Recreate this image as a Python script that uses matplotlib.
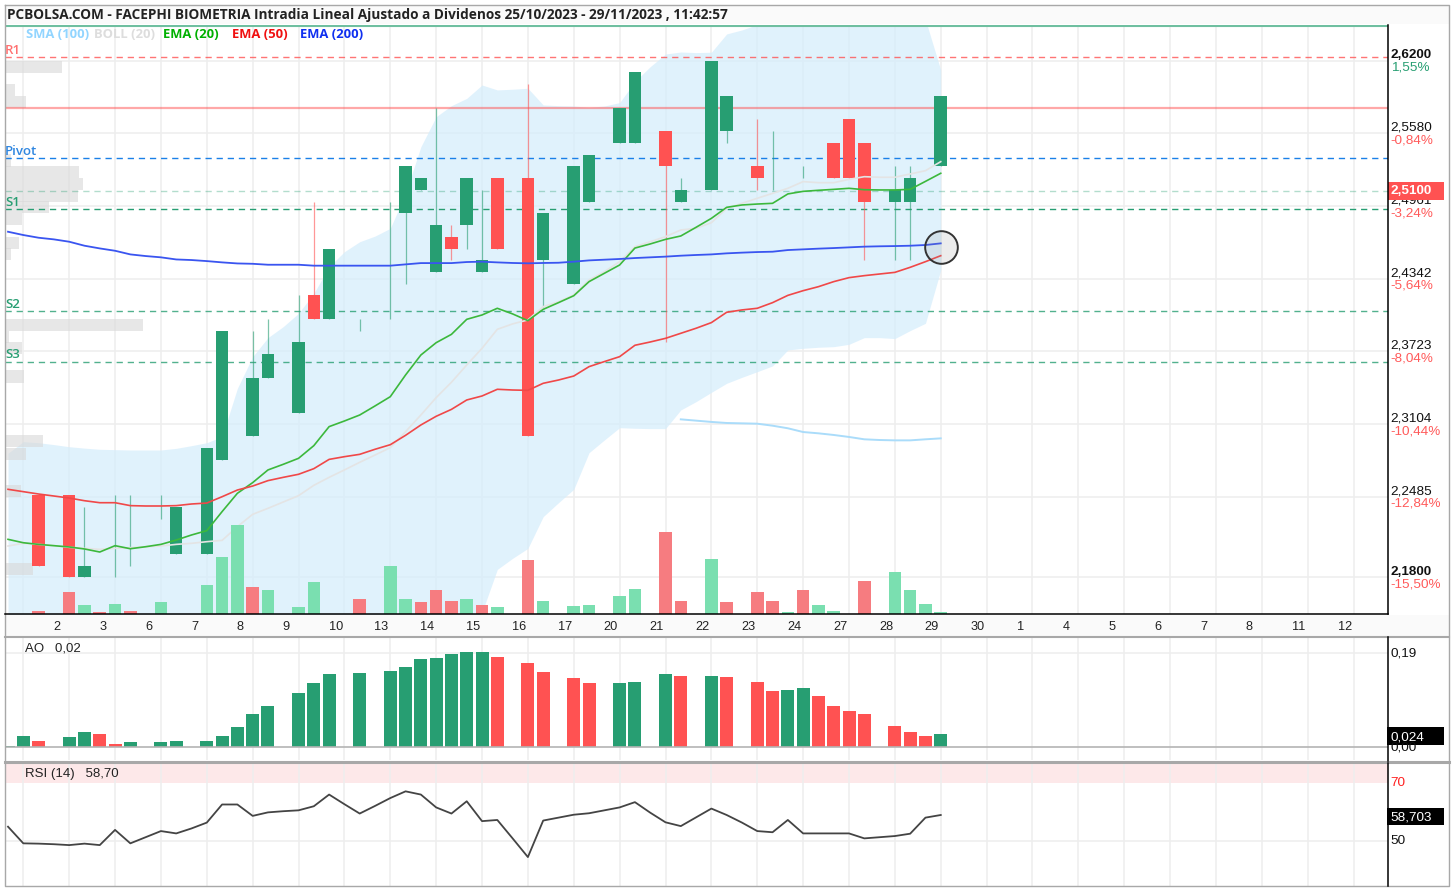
import matplotlib
matplotlib.use('Agg')
import matplotlib.pyplot as plt
import numpy as np

nan = np.nan
W, H = 1454, 891

# candles, bar -1 .. 60 (three bars per day)
bars = np.arange(-1, 61)
opens = [nan, nan, 2.25, nan, 2.25, 2.18, nan, 2.25, 2.25, nan, 2.25, 2.20, nan, 2.20, 2.28, nan,
         2.30, 2.35, nan, 2.32, 2.42, 2.40, nan, 2.40, nan, 2.50, 2.49, 2.51, 2.44, 2.47, 2.48, 2.44,
         2.52, nan, 2.52, 2.45, nan, 2.43, 2.50, nan, 2.55, 2.55, nan, 2.56, 2.50, nan, 2.51, 2.56,
         nan, 2.53, 2.56, nan, 2.53, nan, 2.55, 2.57, 2.55, nan, 2.50, 2.50, nan, 2.53]
highs = [nan, nan, 2.25, nan, 2.25, 2.24, nan, 2.25, 2.25, nan, 2.25, 2.24, nan, 2.29, 2.39, nan,
         2.39, 2.40, nan, 2.42, 2.50, 2.46, nan, 2.40, nan, 2.50, 2.53, 2.52, 2.58, 2.48, 2.52, 2.51,
         2.52, nan, 2.60, 2.49, nan, 2.53, 2.54, nan, 2.58, 2.61, nan, 2.56, 2.52, nan, 2.62, 2.59,
         nan, 2.57, 2.56, nan, 2.53, nan, 2.55, 2.57, 2.55, nan, 2.53, 2.53, nan, 2.59]
lows = [nan, nan, 2.19, nan, 2.18, 2.18, nan, 2.18, 2.19, nan, 2.23, 2.20, nan, 2.20, 2.28, nan,
        2.30, 2.35, nan, 2.32, 2.40, 2.40, nan, 2.39, nan, 2.40, 2.43, 2.51, 2.44, 2.45, 2.46, 2.44,
        2.46, nan, 2.30, 2.41, nan, 2.43, 2.50, nan, 2.55, 2.55, nan, 2.38, 2.50, nan, 2.51, 2.55,
        nan, 2.51, 2.51, nan, 2.52, nan, 2.52, 2.52, 2.45, nan, 2.45, 2.45, nan, 2.53]
closes = [nan, nan, 2.19, nan, 2.18, 2.19, nan, 2.25, 2.25, nan, 2.25, 2.24, nan, 2.29, 2.39, nan,
          2.35, 2.37, nan, 2.38, 2.40, 2.46, nan, 2.40, nan, 2.50, 2.53, 2.52, 2.48, 2.46, 2.52, 2.45,
          2.46, nan, 2.30, 2.49, nan, 2.53, 2.54, nan, 2.58, 2.61, nan, 2.53, 2.51, nan, 2.62, 2.59,
          nan, 2.52, 2.56, nan, 2.53, nan, 2.52, 2.52, 2.50, nan, 2.51, 2.52, nan, 2.59]

ema20 = [2.2123, 2.2094, 2.2080, 2.2069, 2.2058, 2.2041, 2.2015, 2.2069, 2.2043, 2.2060, 2.2080,
         2.2117, 2.2160, 2.2197, 2.2359, 2.2515, 2.2606, 2.2714, 2.2762, 2.2813, 2.2921, 2.3083,
         2.3131, 2.3182, 2.3259, 2.3338, 2.3523, 2.3693, 2.3798, 2.3869, 2.3997, 2.4034, 2.4091,
         2.4043, 2.3986, 2.4082, 2.4139, 2.4198, 2.4318, 2.4389, 2.4460, 2.4604, 2.4639, 2.4678,
         2.4707, 2.4781, 2.4857, 2.4951, 2.4971, 2.4979, 2.4985, 2.5065, 2.5087, 2.5096, 2.5104,
         2.5113, 2.5101, 2.5099, 2.5099, 2.5104, 2.5172, 2.5241]
ema50 = [2.2549, 2.2529, 2.2509, 2.2492, 2.2475, 2.2452, 2.2435, 2.2435, 2.2410, 2.2407, 2.2407,
         2.2410, 2.2424, 2.2432, 2.2486, 2.2543, 2.2577, 2.2623, 2.2651, 2.2677, 2.2725, 2.2804,
         2.2827, 2.2847, 2.2890, 2.2929, 2.3009, 2.3097, 2.3171, 2.3230, 2.3310, 2.3344, 2.3401,
         2.3395, 2.3392, 2.3452, 2.3480, 2.3514, 2.3594, 2.3637, 2.3679, 2.3776, 2.3804, 2.3835,
         2.3878, 2.3921, 2.3969, 2.4057, 2.4077, 2.4091, 2.4139, 2.4201, 2.4241, 2.4275, 2.4318,
         2.4352, 2.4369, 2.4383, 2.4397, 2.4440, 2.4488, 2.4539]
ema200 = [2.4743, 2.4715, 2.4692, 2.4678, 2.4658, 2.4624, 2.4601, 2.4581, 2.4550, 2.4536, 2.4525,
          2.4507, 2.4502, 2.4493, 2.4482, 2.4473, 2.4470, 2.4462, 2.4462, 2.4462, 2.4454, 2.4454,
          2.4454, 2.4454, 2.4454, 2.4454, 2.4465, 2.4476, 2.4476, 2.4476, 2.4485, 2.4488, 2.4482,
          2.4477, 2.4474, 2.4477, 2.4479, 2.4488, 2.4499, 2.4505, 2.4511, 2.4519, 2.4525, 2.4531,
          2.4539, 2.4545, 2.4550, 2.4559, 2.4565, 2.4570, 2.4573, 2.4587, 2.4593, 2.4599, 2.4604,
          2.4610, 2.4616, 2.4619, 2.4621, 2.4624, 2.4630, 2.4644]
boll_mid = [2.2066, 2.2089, 2.2080, 2.2069, 2.2055, 2.2046, 2.2038, 2.2046, 2.2052, 2.2060, 2.2066,
            2.2080, 2.2089, 2.2103, 2.2114, 2.2231, 2.2336, 2.2387, 2.2441, 2.2495, 2.2583, 2.2651,
            2.2714, 2.2779, 2.2841, 2.2904, 2.3040, 2.3182, 2.3330, 2.3461, 2.3608, 2.3750, 2.3912,
            2.3958, 2.3992, 2.4105, 2.4147, 2.4204, 2.4332, 2.4403, 2.4488, 2.4616, 2.4658, 2.4701,
            2.4758, 2.4772, 2.4820, 2.4942, 2.4985, 2.5028, 2.5070, 2.5113, 2.5170, 2.5161, 2.5161,
            2.5189, 2.5212, 2.5207, 2.5207, 2.5235, 2.5263, 2.5340]
boll_up = [2.2856, 2.2955, 2.2946, 2.2930, 2.2912, 2.2900, 2.2890, 2.2887, 2.2884, 2.2884, 2.2884,
           2.2898, 2.2921, 2.2946, 2.2998, 2.3409, 2.3679, 2.3841, 2.3935, 2.4048, 2.4218, 2.4445,
           2.4573, 2.4658, 2.4706, 2.4772, 2.5070, 2.5467, 2.5723, 2.5817, 2.5879, 2.5993, 2.5951,
           2.5957, 2.5965, 2.5823, 2.5817, 2.5814, 2.5803, 2.5814, 2.5843, 2.6022, 2.6149, 2.6257,
           2.6274, 2.6269, 2.6272, 2.6428, 2.6462, 2.6507, 2.6520, 2.6520, 2.6510, 2.6520, 2.6520,
           2.6520, 2.6520, 2.6520, 2.6520, 2.6520, 2.6550, 2.6120]
boll_low = [2.1400, 2.1400, 2.1400, 2.1400, 2.1400, 2.1400, 2.1400, 2.1400, 2.1400, 2.1400, 2.1400,
            2.1400, 2.1400, 2.1400, 2.1400, 2.1400, 2.1400, 2.1400, 2.1400, 2.1400, 2.1400, 2.1400,
            2.1400, 2.1400, 2.1400, 2.1400, 2.1400, 2.1400, 2.1400, 2.1400, 2.1400, 2.1500, 2.1867,
            2.1961, 2.2046, 2.2316, 2.2435, 2.2549, 2.2861, 2.2969, 2.3074, 2.3069, 2.3066, 2.3066,
            2.3225, 2.3296, 2.3375, 2.3452, 2.3503, 2.3551, 2.3600, 2.3736, 2.3750, 2.3759, 2.3764,
            2.3784, 2.3841, 2.3841, 2.3833, 2.3901, 2.3963, 2.4416]
sma100_bars = np.arange(43, 61)
sma100 = [2.3145, 2.3134, 2.3123, 2.3114, 2.3111, 2.3108, 2.3091, 2.3069, 2.3037, 2.3026, 2.3012,
          2.2995, 2.2975, 2.2969, 2.2966, 2.2966, 2.2975, 2.2983]

# volume (no scale shown, relative units)
vol_bars = [1, 3, 4, 5, 6, 7, 9, 12, 13, 14, 15, 16, 18, 19, 22, 24, 25, 26, 27, 28, 29, 30, 31, 33, 34,
            36, 37, 39, 40, 42, 43, 45, 46, 48, 49, 50, 51, 52, 53, 55, 57, 58, 59, 60]
vol_vals = [9, 65, 27, 6, 31, 9, 35, 88, 170, 266, 80, 72, 20, 95, 46, 144, 46, 35, 72, 39, 46, 27, 20, 163, 39,
            24, 27, 54, 76, 246, 39, 166, 35, 65, 39, 6, 72, 27, 9, 99, 125, 72, 31, 6]
vol_up = [0, 0, 1, 0, 1, 0, 1, 1, 1, 1, 0, 1, 1, 1, 0, 1, 1, 0, 0, 0, 1, 0, 1, 0, 1,
          1, 1, 1, 1, 0, 0, 1, 0, 0, 0, 1, 0, 1, 1, 0, 1, 1, 1, 1]

# volume profile on the left side
profile_prices = [2.615, 2.595, 2.585, 2.535, 2.525, 2.515, 2.505, 2.495, 2.485, 2.465, 2.455, 2.395,
                  2.385, 2.375, 2.351, 2.296, 2.285, 2.2535, 2.187]
profile_vals = [57, 10, 21, 6, 74, 78, 73, 44, 17, 14, 6, 138, 4, 17, 19, 38, 21, 16, 28]

# pivots
r1 = 2.6231
res_line = 2.5793
pivot = 2.5371
last_line = 2.5094
s1 = 2.4933
s2 = 2.4071
s3 = 2.3634

price_ticks = [2.62, 2.558, 2.4961, 2.4342, 2.3723, 2.3104, 2.2485, 2.18]
price_labels = ['2,6200', '2,5580', '2,4961', '2,4342', '2,3723', '2,3104', '2,2485', '2,1800']
pct_labels = ['1,55%', '-0,84%', '-3,24%', '-5,64%', '-8,04%', '-10,44%', '-12,84%', '-15,50%']
day_labels = ['2', '3', '6', '7', '8', '9', '10', '13', '14', '15', '16', '17', '20', '21', '22', '23', '24',
              '27', '28', '29', '30', '1', '4', '5', '6', '7', '8', '11', '12']

ao_bars = [-1, 0, 1, 3, 4, 5, 6, 7, 9, 10, 12, 13, 14, 15, 16, 18, 19, 20, 22, 24, 25, 26, 27, 28, 29, 30,
           31, 33, 34, 36, 37, 39, 40, 42, 43, 45, 46, 48, 49, 50, 51, 52, 53, 54, 55, 57, 58, 59, 60]
ao_vals = [.0033, .0234, .0134, .0207, .0308, .0261, .0060, .0107, .0107, .0134, .0134, .0234, .0408, .0662,
           .0836, .1084, .1284, .1465, .1485, .1539, .1612, .1766, .1786, .1867, .1913, .1913,
           .1813, .1686, .1512, .1385, .1284, .1284, .1311, .1465, .1438, .1438, .1412, .1311, .1137,
           .1157, .1184, .1037, .0836, .0736, .0662, .0435, .0308, .0234, .0261]
ao_up = [1, 1, 0, 1, 1, 0, 0, 1, 1, 1, 1, 1, 1, 1, 1, 1, 1, 1, 1, 1, 1, 1, 1, 1, 1, 1,
         0, 0, 0, 0, 0, 1, 1, 1, 0, 1, 0, 0, 0, 1, 1, 0, 0, 0, 0, 0, 0, 0, 1]

rsi = [54.9, 49.2, 49.1, 48.9, 48.6, 49.1, 48.6, 53.8, 49.2, 51.3, 53.4, 52.6, 54.3, 56.3, 62.5, 62.5,
       58.6, 59.8, 60.2, 60.5, 61.9, 65.9, 62.6, 59.4, 62.0, 64.7, 67.0, 65.9, 61.5, 59.4, 63.6, 56.8,
       57.2, 50.9, 44.5, 57.0, 58.0, 59.0, 59.5, 60.5, 61.5, 63.3, 59.7, 56.4, 55.1, 58.1, 61.1, 58.9,
       56.3, 53.4, 53.0, 57.2, 52.6, 52.6, 52.6, 52.6, 50.9, 51.3, 51.7, 52.5, 58.0, 58.9]

GREEN = '#279e72'
RED = '#ff5252'
GRID = '#eeeeee'
FRAME = '#a8a8a8'
UI_FONT = 'Open Sans'
AXIS_FONT = 'Liberation Sans'

plt.rcParams['font.family'] = AXIS_FONT

fig = plt.figure(figsize=(W / 100, H / 100), dpi=100)


def make_axes(left, top, right, bottom, zorder=1):
    a = fig.add_axes([left / W, 1 - bottom / H, (right - left) / W, (bottom - top) / H], zorder=zorder)
    a.patch.set_alpha(0)
    for s in a.spines.values():
        s.set_visible(False)
    a.set_xticks([])
    a.set_yticks([])
    return a


def pixel_axes(zorder):
    a = make_axes(0, 0, W, H, zorder=zorder)
    a.set_xlim(0, W)
    a.set_ylim(H, 0)
    return a


# page chrome under the charts, labels and frame above them
page = pixel_axes(0)
over = pixel_axes(6)
page.fill_between([5, 1449], 5, 24, color='#fafafa', lw=0)
page.fill_between([5, 1449], 615, 636, color='#fafafa', lw=0)
over.plot([5, 1449, 1449, 5, 5], [5, 5, 886, 886, 5], color=FRAME, lw=1)
over.plot([5, 1449], [636.5, 636.5], color=FRAME, lw=1.5)
over.plot([5, 1449], [761.5, 761.5], color=FRAME, lw=2.2)

XLIM = (-1.197, 89.25)
day_grid = np.arange(0, 88, 3)

ax = make_axes(5, 25, 1388, 614, zorder=2)
ax.set_xlim(*XLIM)
ax.set_ylim(2.1487, 2.6504)
ax.vlines(day_grid, 2.1487, 2.6504, color=GRID, lw=1.1, zorder=0)
ax.hlines(price_ticks, *XLIM, color=GRID, lw=1.1, zorder=0)
ax.fill_between(bars, boll_low, boll_up, color='#d5edfc', alpha=0.72, lw=0, zorder=1)

ax.barh(profile_prices, np.array(profile_vals) / 15.29, height=0.0103, left=XLIM[0], color='#d8d8d8',
        alpha=0.6, lw=0, zorder=2)

for val, col, ls, alpha in [(r1, '#ff5252', (0, (4.5, 3.5)), 0.8), (res_line, '#ff5252', '-', 0.5),
                            (pivot, '#1a80e8', (0, (4.5, 3.5)), 1), (last_line, GREEN, (0, (4.5, 3.5)), 0.35),
                            (s1, GREEN, (0, (4.5, 3.5)), 1), (s2, GREEN, (0, (4.5, 3.5)), 0.8),
                            (s3, GREEN, (0, (4.5, 3.5)), 0.8)]:
    ax.hlines(val, *XLIM, color=col, linestyles=[ls], lw=1.0 if ls != '-' else 1.6, alpha=alpha, zorder=2)
ax.plot(XLIM, [2.6495, 2.6495], color='#6fbfa0', lw=1.5, zorder=2)

# candles
for b, o, h, l, c in zip(bars, opens, highs, lows, closes):
    if np.isnan(o):
        continue
    col = GREEN if c >= o else RED
    ax.vlines(b, l, h, color=col, lw=0.9, alpha=0.6, zorder=3)
    if c != o:
        ax.bar(b, abs(c - o), bottom=min(o, c), width=0.82, color=col, lw=0, zorder=4)

ax.plot(bars, boll_mid, color='#e4e4e4', lw=1.2, zorder=5)
ax.plot(sma100_bars, sma100, color='#aadcfa', lw=1.4, zorder=5)
ax.plot(bars, ema20, color='#3cb83c', lw=1.2, zorder=5)
ax.plot(bars, ema50, color='#f04848', lw=1.2, zorder=5)
ax.plot(bars, ema200, color='#3a55f0', lw=1.3, zorder=5)
ax.plot(bars[-1], ema200[-1] - 0.0029, 'o', ms=23.5, mfc=(0.55, 0.55, 0.55, 0.16), mec='#333333', mew=1.4, zorder=6)

# volume on its own scale, same bars
ax_vol = make_axes(5, 25, 1388, 614, zorder=3)
ax_vol.set_xlim(*XLIM)
ax_vol.set_ylim(0, 589 * 3)
ax_vol.bar(vol_bars, vol_vals, width=0.82, lw=0,
           color=['#7adfb0' if u else '#f67c80' for u in vol_up])

# right hand price scale
for tick, lab, pct in zip(price_ticks, price_labels, pct_labels):
    pct_col = GREEN if not pct.startswith('-') else '#ff5a5a'
    bold = lab in ('2,6200', '2,1800')
    ax.annotate(lab, (1.0, tick), xycoords=ax.get_yaxis_transform(), xytext=(2, 4.1), textcoords='offset points',
                fontsize=9.7, color='#111111', weight='bold' if bold else 'normal', va='center', annotation_clip=False)
    ax.annotate(pct, (1.0, tick), xycoords=ax.get_yaxis_transform(), xytext=(2, -5.0), textcoords='offset points',
                fontsize=9.7, color=pct_col, va='center', annotation_clip=False)
over.fill_between([1388, 1444], 182, 199.5, color=RED, lw=0)
over.text(1390.5, 191, '2,5100', color='white', fontsize=9.7, weight='bold', va='center')
over.plot([1388, 1388], [25, 614], color='black', lw=1.1)
over.plot([5, 1388], [614, 614], color='black', lw=1.1)

# day labels
for k, lab in enumerate(day_labels):
    x = 3 * k + 1.96
    xp = 5 + (x - XLIM[0]) / (XLIM[1] - XLIM[0]) * 1383
    over.text(xp, 627.5, lab, fontsize=9.2, color='#222222', ha='left', va='center')

# title, legend, pivots names
over.text(7, 14.5, 'PCBOLSA.COM - FACEPHI BIOMETRIA Intradia Lineal Ajustado a Dividenos 25/10/2023 - 29/11/2023 , 11:42:57',
          fontsize=9.84, family=UI_FONT, weight='bold', color='#222222', va='center')
for x, lab, col in [(26, 'SMA (100)', '#92d5ff'), (94, 'BOLL (20)', '#dddddd'), (163, 'EMA (20)', '#00b000'),
                    (232, 'EMA (50)', '#f01010'), (300, 'EMA (200)', '#1030f0')]:
    over.text(x, 34.5, lab, fontsize=9.35, family=UI_FONT, weight='bold', color=col, va='center')
for x, y, lab, col in [(5, 50.5, 'R1', '#ff7070'), (4.5, 151.5, 'Pivot', '#2f86e0'), (5, 202.5, 'S1', GREEN),
                       (5, 304.5, 'S2', GREEN), (5, 354.5, 'S3', GREEN)]:
    over.text(x, y, lab, fontsize=9.5, family=UI_FONT, color=col, va='center', weight='semibold')

# AO panel
ax_ao = make_axes(5, 637, 1388, 760.5, zorder=2)
ax_ao.set_xlim(*XLIM)
ax_ao.set_ylim(-0.0264, 0.2215)
ax_ao.vlines(day_grid, -0.0264, 0.2215, color=GRID, lw=1.1, zorder=0)
ax_ao.hlines(0.19, *XLIM, color=GRID, lw=1.1, zorder=0)
ax_ao.bar(ao_bars, ao_vals, width=0.85, lw=0, color=[GREEN if u else RED for u in ao_up], zorder=2)
ax_ao.hlines(0, *XLIM, color='#b4b4b4', lw=1.2, zorder=3)
over.plot([1388, 1388], [637, 760.5], color='black', lw=1.1)
over.text(25, 648.5, 'AO   0,02', fontsize=9.5, color='#222222', va='center')
over.text(1390.5, 653, '0,19', fontsize=9.7, color='#111111', va='center')
over.text(1390.5, 747.5, '0,00', fontsize=9.7, color='#111111', va='center')
over.fill_between([1387, 1444], 727, 745, color='black', lw=0)
over.text(1390.5, 737, '0,024', fontsize=9.7, color='white', va='center')

# RSI panel
ax_rsi = make_axes(5, 763, 1388, 886, zorder=2)
ax_rsi.set_xlim(*XLIM)
ax_rsi.set_ylim(34.6, 76.7)
ax_rsi.axhspan(70, 76.7, color='#fde8e9', lw=0, zorder=0)
ax_rsi.vlines(day_grid, 34.6, 76.7, color=GRID, lw=1.1, zorder=1)
ax_rsi.hlines(50, *XLIM, color=GRID, lw=1.1, zorder=1)
ax_rsi.plot(bars, rsi, color='#444444', lw=1.3, zorder=3)
over.plot([1388, 1388], [763, 886], color='black', lw=1.1)
over.text(25, 773.5, 'RSI (14)   58,70', fontsize=9.5, color='#222222', va='center')
over.text(1390.5, 783, '70', fontsize=9.7, color='#ff2020', va='center')
over.text(1390.5, 841.5, '50', fontsize=9.7, color='#111111', va='center')
over.fill_between([1387, 1444], 807.5, 825, color='black', lw=0)
over.text(1390.5, 817, '58,703', fontsize=9.7, color='white', va='center')

for a in (page, over):
    a.set_xlim(0, W)
    a.set_ylim(H, 0)

fig.savefig('out.png', dpi=100)
